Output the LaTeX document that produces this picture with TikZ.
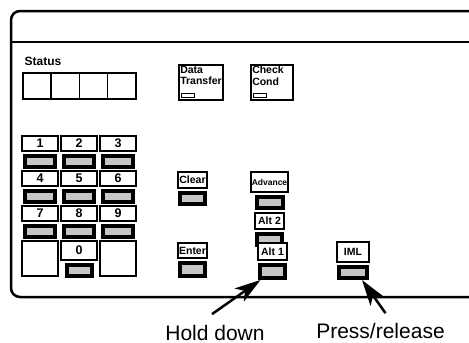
\documentclass[tikz,border=0pt]{standalone}
\usepackage{fontspec}
\setmainfont{Liberation Sans}
\usetikzlibrary{arrows.meta,positioning}

\begin{document}
\begin{tikzpicture}[x=1pt,y=-1pt,line width=1.3pt,>={Stealth[length=26pt,width=16pt,inset=7pt]},
  lbl/.style={draw,fill=white,line width=2pt,inner sep=0pt,font=\bfseries\fontsize{10.5}{11}\selectfont,minimum height=16pt},
  keycap/.style={draw,line width=4pt,fill=gray!45,inner sep=0pt,minimum height=11pt},
  numkey/.style={lbl,minimum width=36pt,minimum height=15pt,font=\bfseries\fontsize{12.5}{13}\selectfont},
  statbox/.style={draw,line width=1.5pt,minimum width=28.25pt,minimum height=26pt},
  fkey/.style={draw,line width=1.8pt,minimum width=44pt,minimum height=35pt},
  ftext/.style={inner sep=1.5pt,align=left,font=\bfseries\fontsize{10.5}{11.5}\selectfont},
  led/.style={draw,line width=1.2pt,inner sep=0pt,minimum width=13pt,minimum height=4pt},
  caption/.style={inner sep=0pt,anchor=base,font=\fontsize{21}{24}\selectfont},
  pointer/.style={->,line width=2.5pt}]
  \useasboundingbox (0,0) rectangle (469,343);
  % panel
  \draw[line width=2.5pt,rounded corners=9pt] (469,11) -- (11,11) -- (11,297) -- (469,297);
  \draw[line width=1.5pt] (11,42) -- (469,42);
  % status
  \node[anchor=west,inner sep=0pt,font=\bfseries\fontsize{12}{13}\selectfont] (status) at (24,61) {Status};
  \foreach \i in {0,...,3}
    \node[statbox] (s\i) at (37.1+28.25*\i,86) {};
  % teclado
  \foreach \n/\c/\r in {1/0/0,2/1/0,3/2/0,4/0/1,5/1/1,6/2/1,7/0/2,8/1/2,9/2/2}{
    \node[numkey] (k\n) at (40+39*\c,143.5+35*\r) {\n};
    \node[keycap,minimum width=30pt,below=2pt of k\n] (c\n) {};
  }
  \node[statbox,minimum width=36pt,minimum height=35pt] (blankl) at (40,258.5) {};
  \node[statbox,minimum width=36pt,minimum height=35pt] (blankr) at (118,258.5) {};
  \node[numkey,minimum height=19pt] (k0) at (79,250) {0};
  \node[keycap,minimum width=25pt,below=2pt of k0] (c0) {};
  % indicadores
  \node[fkey] (dt) at (201,82.5) {};
  \node[ftext,anchor=north west] (dtt) at (dt.north west) {Data\\Transfer};
  \node[led,anchor=south west] (dtl) at ([shift={(3pt,3pt)}]dt.south west) {};
  \node[fkey,minimum width=42pt] (cc) at (272,82.5) {};
  \node[ftext,anchor=north west] (cct) at (cc.north west) {Check\\Cond};
  \node[led,anchor=south west] (ccl) at ([shift={(3pt,3pt)}]cc.south west) {};
  % teclas de funcion
  \node[lbl,minimum width=29pt] (clr) at (192.5,180) {Clear};
  \node[keycap,minimum width=25pt,below=2pt of clr] (clrc) {};
  \node[lbl,minimum width=29pt,minimum height=15pt] (ent) at (192.5,250.5) {Enter};
  \node[keycap,minimum width=25pt,minimum height=13pt,below=2pt of ent] (entc) {};
  \node[lbl,minimum width=37pt,minimum height=20pt,font=\bfseries\fontsize{8.5}{9}\selectfont] (adv) at (269.5,182) {Advance};
  \node[keycap,minimum width=26pt,below=2pt of adv] (advc) {};
  \node[lbl,minimum width=29pt,below=2pt of advc] (alt2) {Alt 2};
  \node[keycap,minimum width=25pt,below=2pt of alt2] (alt2c) {};
  \node[lbl,minimum width=29pt,minimum height=17pt] (alt1) at (272.5,251.5) {Alt 1};
  \node[keycap,minimum width=25pt,minimum height=13pt,below=2pt of alt1] (alt1c) {};
  \node[lbl,minimum width=32pt,minimum height=20pt] (iml) at (353,252) {IML};
  \node[keycap,minimum width=28pt,below=2pt of iml] (imlc) {};
  % rotulos
  \node[caption] (hold) at (215,340) {Hold down};
  \node[caption] (press) at (380.5,338) {Press/release};
  \draw[pointer] ([shift={(-3pt,10pt)}]hold.north) -- ([xshift=-12pt]alt1c.south);
  \draw[pointer] ([shift={(5pt,9pt)}]press.north) -- ([xshift=9pt]imlc.south);
\end{tikzpicture}
\end{document}
